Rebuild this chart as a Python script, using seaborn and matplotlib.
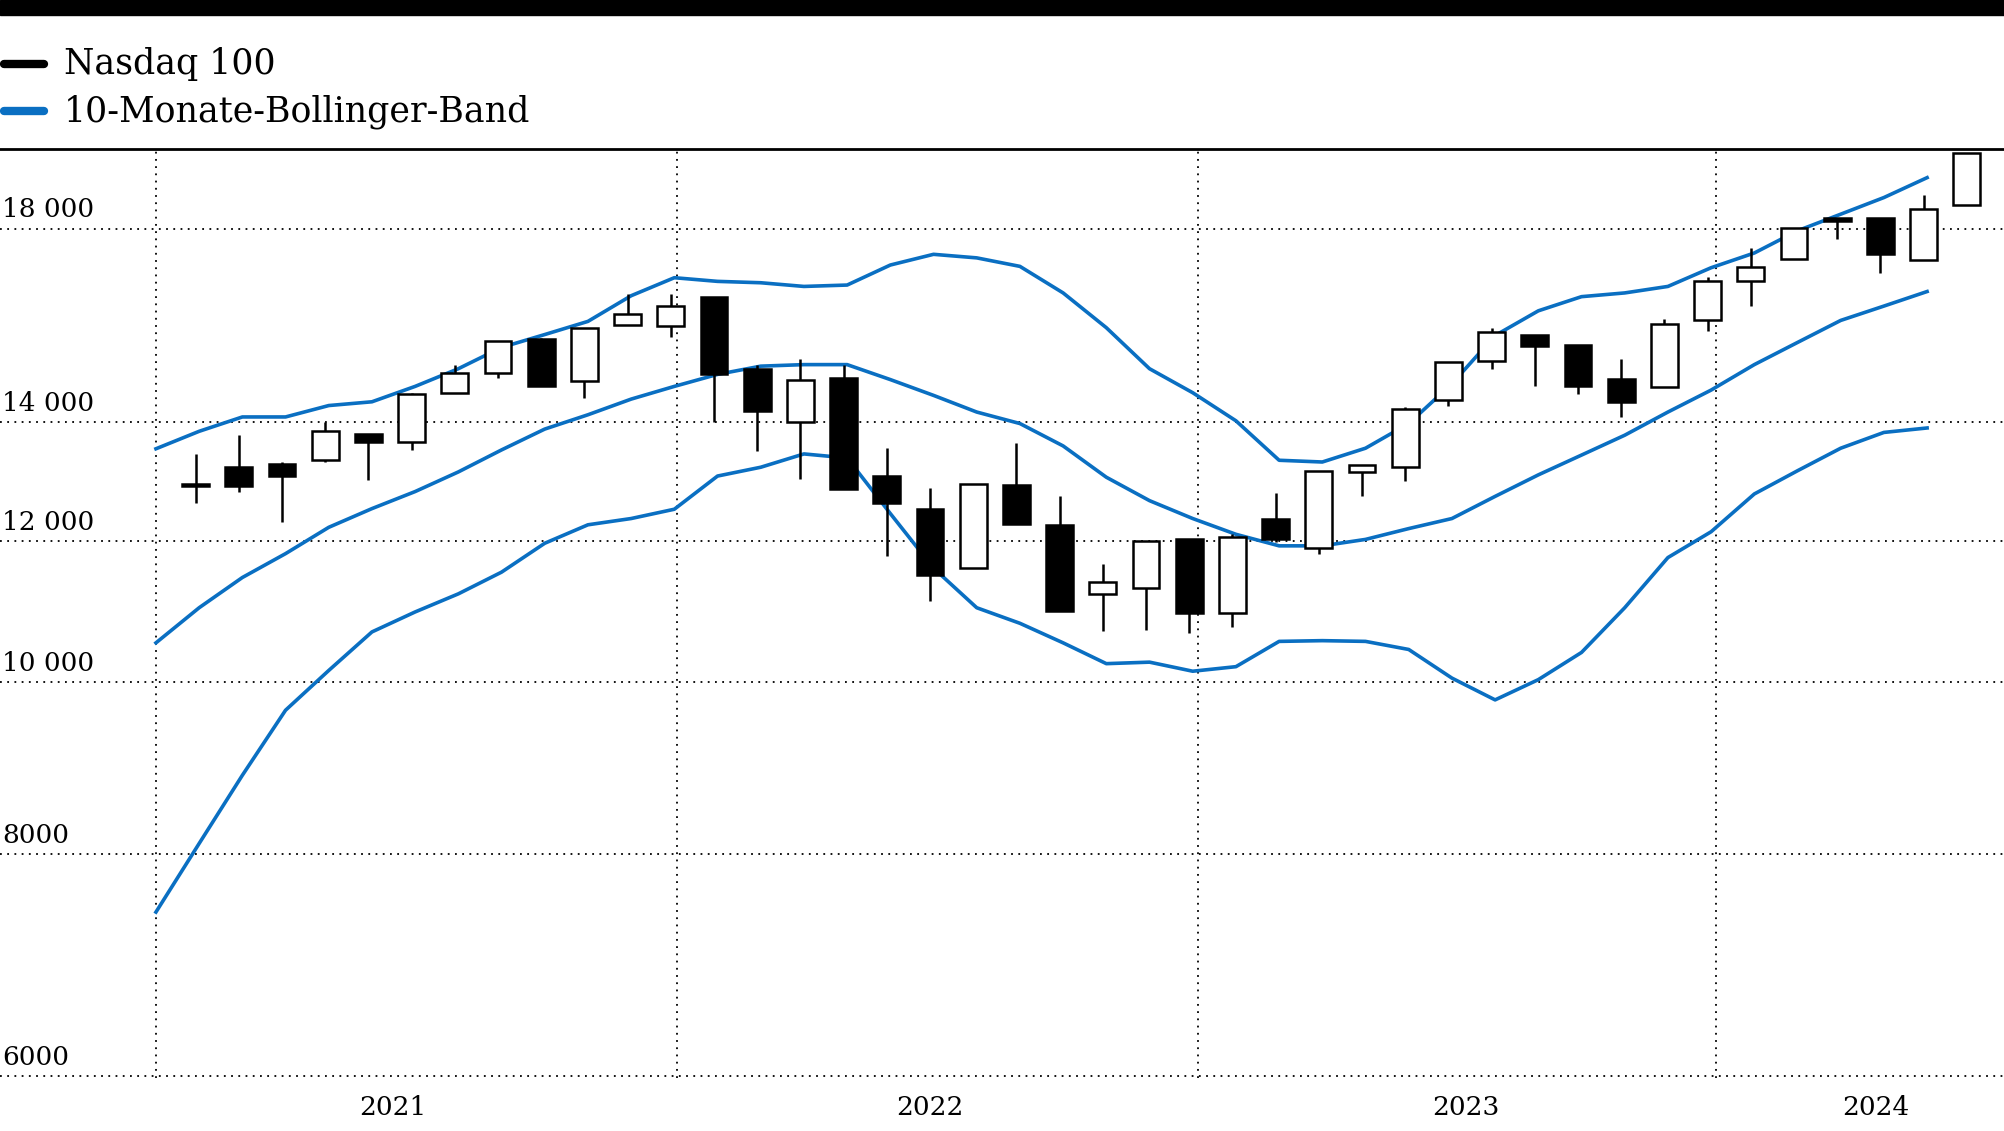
import numpy as np
import pandas as pd
import matplotlib
matplotlib.use("Agg")
import matplotlib.pyplot as plt
from matplotlib.lines import Line2D
from matplotlib.patches import Rectangle
import seaborn as sns

# Monthly candles (Aug 2020 .. Jan 2024)
opens = [12930,13210,13260,13330,13790,13650,14550,14920,15590,14770,15880,15860,
         16480,15000,14000,14840,13060,12520,11590,12910,12260,11210,11290,12030,
         10930,12360,11890,13130,13210,14410,15170,15690,15480,14820,14650,15990,
         16810,17310,18250,18250,17280,18560]
highs = [13440,13770,13300,14000,13790,14550,15090,15560,15610,15830,16530,16530,
         16480,15090,15200,15090,13540,12860,12930,13630,12720,11650,12010,12030,
         12110,12780,13150,13240,14290,15140,15830,15690,15480,15200,16000,16910,
         17550,18010,18250,18250,18800,19850]
lows = [12610,12800,12300,13300,12990,13510,14550,14840,14670,14450,15880,15640,
        14000,13490,13010,12840,11770,11110,11590,12280,10970,10680,10700,10660,
        10740,11990,11810,12720,12970,14310,15010,14670,14530,14100,14650,15770,
        16280,17310,17770,17000,17280,18560]
closes = [12890,12890,13060,13840,13650,14530,14920,15560,14670,15830,16120,16280,
          14900,14210,14790,12840,12610,11490,12930,12280,10970,11380,12010,10930,
          12070,12030,13150,13240,14240,15140,15750,15460,14670,14380,15910,16810,
          17130,18010,18190,17410,18470,19850]

upper = [13530,13840,14100,14100,14310,14380,14670,15010,15430,15690,15960,16500,
         16890,16810,16780,16700,16730,17170,17410,17330,17140,16560,15830,15010,
         14550,14030,13330,13300,13540,13980,14720,15670,16180,16480,16560,16700,
         17110,17440,17950,18340,18740,19230]
middle = [10520,11010,11450,11810,12220,12520,12800,13130,13510,13880,14140,14430,
          14670,14900,15060,15090,15090,14800,14500,14190,13980,13580,13040,12650,
          12360,12110,11930,11930,12030,12200,12360,12720,13080,13420,13770,14190,
          14600,15090,15530,15980,16280,16590]
lower = [7420,8110,8860,9640,10150,10670,10950,11210,11530,11970,12260,12360,
         12510,13060,13210,13440,13370,12440,11590,11010,10790,10520,10240,10260,
         10140,10200,10540,10550,10540,10430,10050,9770,10030,10390,11010,11750,
         12150,12760,13150,13540,13820,13900]

year_labels = ["2021", "2022", "2023", "2024"]
y_ticks = [6000, 8000, 10000, 12000, 14000, 18000]
y_tick_labels = ["6000", "8000", "10 000", "12 000", "14 000", "18 000"]

BLUE = "#0a6fc2"
FONT = "DejaVu Serif"

n = len(opens)
idx = np.arange(n)
band_x = idx - 0.92
bands = pd.DataFrame({"x": np.concatenate([band_x]*3),
                      "v": upper + middle + lower,
                      "band": ["u"]*n + ["m"]*n + ["l"]*n})

fig = plt.figure(figsize=(20.04, 11.31), dpi=100)
ax = fig.add_axes([0, 0.047, 1, 0.821])
ax.set_yscale("log")
ax.set_ylim(5985, 19950)
ax.set_xlim(-4.53, 41.86)

# grid
for yv in y_ticks:
    ax.axhline(yv, color="black", lw=1.3, ls=(0, (1, 3)), zorder=0)
for xv in [-0.92, 11.15, 23.2, 35.2]:
    ax.axvline(xv, color="black", lw=1.3, ls=(0, (1, 3)), zorder=0)

sns.lineplot(data=bands, x="x", y="v", units="band", estimator=None,
             color=BLUE, lw=2.6, ax=ax, legend=False, zorder=2)

# candles
w = 0.62
for i in range(n):
    o, h, l, c = opens[i], highs[i], lows[i], closes[i]
    ax.vlines(i, l, h, color="black", lw=1.8, zorder=3)
    up = c >= o
    ax.bar(i, abs(c - o) if abs(c - o) > 0 else 1, bottom=min(o, c), width=w,
           color="white" if up else "black", edgecolor="black", lw=1.8, zorder=4)

ax.set_yticks([])
ax.minorticks_off()
ax.set_yticks([], minor=True)
ax.set_xticks([4.56, 17.0, 29.4, 38.9])
ax.set_xticklabels(year_labels, fontfamily=FONT, fontsize=19)
ax.tick_params(axis="x", length=0, pad=12)
ax.set_xlabel("")
ax.set_ylabel("")
for s in ["left", "right", "bottom"]:
    ax.spines[s].set_visible(False)
ax.spines["top"].set_linewidth(2)

for yv, lab in zip(y_ticks, y_tick_labels):
    ax.text(0.001, yv * 1.008, lab, transform=ax.get_yaxis_transform(),
            fontfamily=FONT, fontsize=19, va="bottom", ha="left")

# top bar and legend
fig.patches.append(Rectangle((0, 1 - 0.0136), 1, 0.0136, transform=fig.transFigure,
                             color="black"))
for yy, col, lab in [(1 - 50/884, "black", "Nasdaq 100"),
                     (1 - 87/884, BLUE, "10-Monate-Bollinger-Band")]:
    fig.add_artist(Line2D([0.002, 0.022], [yy, yy], transform=fig.transFigure,
                          color=col, lw=6, solid_capstyle="round"))
    fig.text(0.032, yy, lab, fontfamily=FONT, fontsize=25, va="center", ha="left")

fig.savefig("out.png", dpi=100)
